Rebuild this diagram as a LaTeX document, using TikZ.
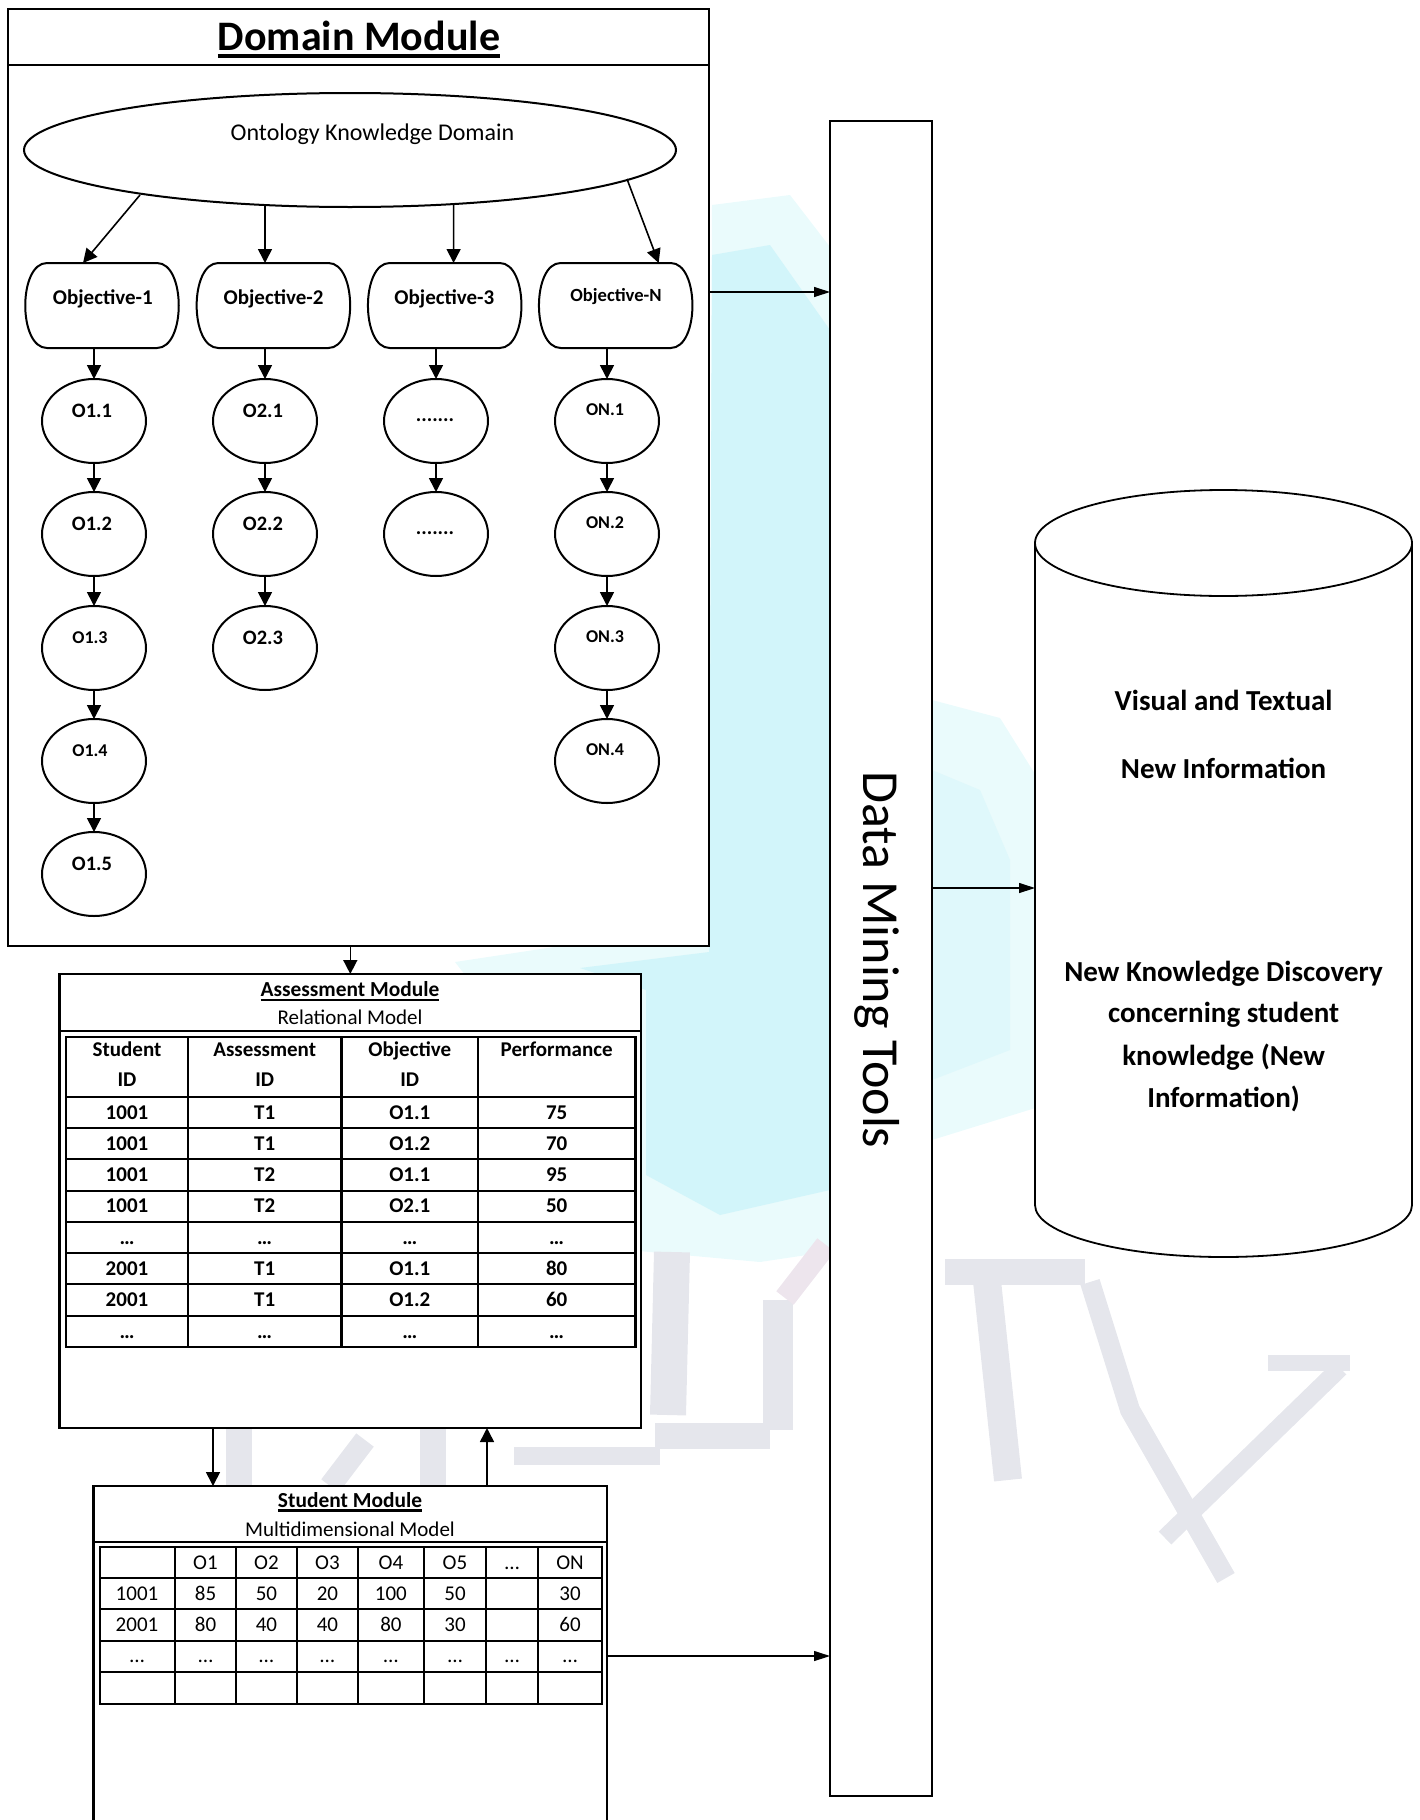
\documentclass[tikz,border=0pt]{standalone}
\usepackage{fontspec}
\setmainfont{Carlito}
\usetikzlibrary{arrows.meta,shapes.geometric,calc}

\definecolor{wmcyan}{RGB}{210,245,250}
\definecolor{wmcyanlight}{RGB}{234,251,252}
\definecolor{wmgray}{RGB}{229,230,236}
\definecolor{wmpink}{RGB}{237,229,237}

% outline of an objective box: straight top/bottom, bulging rounded sides
\newcommand\objoutline[1]{%
  \draw[shapeline]
    ($(#1.north west)+(22,0)$) -- ($(#1.north east)+(-22,0)$)
    .. controls ($(#1.north east)+(7,0)$) and ($(#1.south east)+(7,0)$) .. ($(#1.south east)+(-22,0)$)
    -- ($(#1.south west)+(22,0)$)
    .. controls ($(#1.south west)+(-7,0)$) and ($(#1.north west)+(-7,0)$) .. ($(#1.north west)+(22,0)$)
    -- cycle;}

\begin{document}
\begin{tikzpicture}[x=0.5pt,y=-0.5pt,
  every node/.style={inner sep=0pt, outer sep=0pt},
  boxline/.style={line width=1.2pt},
  modbox/.style={draw, fill=white, rectangle, line width=1.2pt},
  shapeline/.style={line width=1pt},
  arr/.style={-{Triangle[length=7pt,width=7pt]}, line width=0.8pt},
  thinarr/.style={-{Triangle[length=8pt,width=5pt]}, line width=0.6pt},
  objshape/.style={rectangle, minimum width=77pt, minimum height=42.5pt},
  sub/.style={draw, ellipse, line width=1pt, minimum width=52pt, minimum height=42pt},
  capc/.style={text height=#1, text depth=0pt},
  ttl/.style={capc=13.3pt, font=\bfseries\fontsize{21}{25}\selectfont},
  ontl/.style={capc=7.6pt, font=\fontsize{12}{14}\selectfont},
  objl/.style={capc=6.6pt, font=\bfseries\fontsize{10.5}{12}\selectfont},
  objn/.style={capc=5.9pt, font=\bfseries\fontsize{9.3}{11}\selectfont},
  subl/.style={capc=6.5pt, font=\bfseries\fontsize{10.25}{12}\selectfont},
  subs/.style={capc=5.7pt, font=\bfseries\fontsize{9}{11}\selectfont},
  hdr/.style={capc=6.8pt, font=\bfseries\fontsize{10.7}{13}\selectfont},
  hdrsub/.style={capc=6.6pt, font=\fontsize{10.5}{13}\selectfont},
  cellb/.style={capc=6.6pt, font=\bfseries\fontsize{10.5}{12}\selectfont},
  cellr/.style={capc=6.6pt, font=\fontsize{10.5}{12}\selectfont},
  cyltxt/.style={capc=9.2pt, font=\bfseries\fontsize{14.5}{17}\selectfont},
  dmtxt/.style={capc=16.4pt, font=\fontsize{26}{30}\selectfont}
]
\useasboundingbox (0,0) rectangle (1419,1820);

% ---------- faint background logo ----------
\fill[wmcyanlight] (712,205) -- (790,195) -- (840,260) -- (840,1250) -- (760,1262)
  -- (628,1250) -- (600,1150) -- (455,962) -- (600,940) -- (709,900) -- cycle;
\fill[wmcyan] (712,255) -- (770,245) -- (830,330) -- (830,1190) -- (720,1215)
  -- (646,1175) -- (646,990) -- (580,968) -- (709,952) -- cycle;
\fill[wmcyanlight] (932,700) -- (1000,718) -- (1045,790) -- (1045,1105) -- (932,1140) -- cycle;
\fill[wmcyan!70!white] (932,770) -- (980,790) -- (1010,860) -- (1010,1050) -- (932,1080) -- cycle;
\begin{scope}[draw=wmgray]
  \draw[line width=18pt] (672,1252) -- (668,1415);
  \draw[line width=13pt] (655,1436) -- (770,1436);
  \draw[line width=9pt] (514,1456) -- (660,1456);
  \draw[line width=15pt] (778,1300) -- (778,1430);
  \draw[wmpink, line width=11pt] (785,1298) -- (826,1245);
  \draw[line width=13pt] (239,1428) -- (239,1486);
  \draw[line width=11pt] (330,1486) -- (365,1440);
  \draw[line width=13pt] (433,1428) -- (433,1486);
  \draw[line width=13pt] (945,1272) -- (1085,1272);
  \draw[line width=14pt] (985,1262) -- (1008,1480);
  \draw[line width=10pt] (1090,1282) -- (1130,1410) -- (1226,1578);
  \draw[line width=8pt] (1268,1363) -- (1350,1363);
  \draw[line width=9pt] (1340,1368) -- (1165,1538);
\end{scope}

% ---------- Domain module ----------
\node[modbox, minimum width=350.5pt, minimum height=468.5pt] (dom) at (358.5,477.5) {};
\coordinate (domsep) at (0,65);
\draw[boxline] (dom.west |- domsep) -- (dom.east |- domsep);
\node[ttl] (domt) at (359,37) {Domain Module};
\draw[line width=2pt] ($(domt.base west)+(0,6)$) -- ($(domt.base east)+(0,6)$);

\node[draw, ellipse, line width=1pt, minimum width=326pt, minimum height=57pt] (onto) at (350,150) {};
\node[ontl] (ontt) at (372.5,133) {Ontology Knowledge Domain};

% objectives
\node[objshape] (ob1) at (102,305.5) {};
\node[objshape] (ob2) at (273.4,305.5) {};
\node[objshape] (ob3) at (444.7,305.5) {};
\node[objshape] (obN) at (615.7,305.5) {};
\objoutline{ob1}\objoutline{ob2}\objoutline{ob3}\objoutline{obN}
\node[objl] (ol1) at (102.8,298) {Objective-1};
\node[objl] (ol2) at (273.6,298) {Objective-2};
\node[objl] (ol3) at (444.4,298) {Objective-3};
\node[objn] (olN) at (616,296) {Objective-N};

\draw[arr] ($(onto.center)+(-210,45)$) -- ($(ob1.north)+(-19,0)$);
\draw[arr] ($(onto.center)+(-85,55)$) -- ($(ob2.north)+(-8.4,0)$);
\draw[arr] ($(onto.center)+(103.6,54)$) -- ($(ob3.north)+(8.9,0)$);
\draw[arr] ($(onto.center)+(277,29)$) -- ($(obN.north)+(43,0)$);

% sub-objective chains
\foreach \n/\y in {1/421,2/534,3/648,4/761,5/874}
  \node[sub] (c1\n) at (94,\y) {};
\foreach \n/\y in {1/421,2/534,3/648}
  \node[sub] (c2\n) at (265,\y) {};
\foreach \n/\y in {1/421,2/534}
  \node[sub] (c3\n) at (436,\y) {};
\foreach \n/\y in {1/421,2/534,3/648,4/761}
  \node[sub] (c4\n) at (607,\y) {};

\node[subl] (t11) at ($(c11)+(-2,-10)$) {O1.1};
\node[subl] (t12) at ($(c12)+(-2,-10)$) {O1.2};
\node[subs] (t13) at ($(c13)+(-4,-10)$) {O1.3};
\node[subs] (t14) at ($(c14)+(-4,-10)$) {O1.4};
\node[subl] (t15) at ($(c15)+(-2,-10)$) {O1.5};
\node[subl] (t21) at ($(c21)+(-2,-10)$) {O2.1};
\node[subl] (t22) at ($(c22)+(-2,-10)$) {O2.2};
\node[subl] (t23) at ($(c23)+(-2,-10)$) {O2.3};
\node[subl, anchor=base] (t31) at ($(c31)+(-1,0)$) {.......};
\node[subl, anchor=base] (t32) at ($(c32)+(-1,0)$) {.......};
\node[subs] (t41) at ($(c41)+(-2,-11)$) {ON.1};
\node[subs] (t42) at ($(c42)+(-2,-11)$) {ON.2};
\node[subs] (t43) at ($(c43)+(-2,-11)$) {ON.3};
\node[subs] (t44) at ($(c44)+(-2,-11)$) {ON.4};

\draw[arr] (ob1.south -| c11) -- (c11);
\draw[arr] (ob2.south -| c21) -- (c21);
\draw[arr] (ob3.south -| c31) -- (c31);
\draw[arr] (obN.south -| c41) -- (c41);
\draw[arr] (c11) -- (c12); \draw[arr] (c12) -- (c13);
\draw[arr] (c13) -- (c14); \draw[arr] (c14) -- (c15);
\draw[arr] (c21) -- (c22); \draw[arr] (c22) -- (c23);
\draw[arr] (c31) -- (c32);
\draw[arr] (c41) -- (c42); \draw[arr] (c42) -- (c43); \draw[arr] (c43) -- (c44);

% ---------- Assessment module ----------
\node[modbox, minimum width=290.7pt, minimum height=227pt] (asm) at (350.3,1201) {};
\coordinate (asmsep) at (0,1031);
\draw[boxline] (asm.west |- asmsep) -- (asm.east |- asmsep);
\node[hdr] (asmt) at (350,990) {Assessment Module};
\draw[line width=1.1pt] ($(asmt.base west)+(0,3)$) -- ($(asmt.base east)+(0,3)$);
\node[hdrsub] (asms) at (350,1018.3) {Relational Model};

\begin{scope}[line width=1.15pt]
  \draw (66,1036.7) rectangle (635.5,1347.3);
  \foreach \x in {187.8,341.6,477.9} \draw (\x,1036.7) -- (\x,1347.3);
  \foreach \y in {1096.7,1128.3,1159.3,1190.7,1221.7,1253.3,1284.3,1316}
    \draw (66,\y) -- (635.5,\y);
\end{scope}
\node[cellb] (ah11) at (127,1050) {Student};
\node[cellb] (ah12) at (127,1080) {ID};
\node[cellb] (ah21) at (264.7,1050) {Assessment};
\node[cellb] (ah22) at (264.7,1080) {ID};
\node[cellb] (ah31) at (409.8,1050) {Objective};
\node[cellb] (ah32) at (409.8,1080) {ID};
\node[cellb] (ah41) at (556.7,1050) {Performance};
\foreach \r/\a/\b/\c/\d/\y in {1/1001/T1/O1.1/75/1112.5, 2/1001/T1/O1.2/70/1143.8,
    3/1001/T2/O1.1/95/1175, 4/1001/T2/O2.1/50/1206.2, 5/…/…/…/…/1237.5,
    6/2001/T1/O1.1/80/1268.8, 7/2001/T1/O1.2/60/1300.2, 8/…/…/…/…/1331.7}{
  \node[cellb] (ar\r-1) at (127,\y) {\a};
  \node[cellb] (ar\r-2) at (264.7,\y) {\b};
  \node[cellb] (ar\r-3) at (409.8,\y) {\c};
  \node[cellb] (ar\r-4) at (556.7,\y) {\d};
}

% ---------- Student module ----------
\node[rectangle, minimum width=256.6pt, minimum height=167pt] (stu) at (350.2,1653) {};
\draw[boxline, fill=white] (stu.south west) -- (stu.north west) -- (stu.north east) -- (stu.south east);
\coordinate (stusep) at (0,1541.7);
\draw[boxline] (stu.west |- stusep) -- (stu.east |- stusep);
\node[hdr] (stut) at (350,1500.7) {Student Module};
\draw[line width=1.1pt] ($(stut.base west)+(0,3)$) -- ($(stut.base east)+(0,3)$);
\node[hdrsub] (stus) at (350,1529.7) {Multidimensional Model};

\begin{scope}[line width=1pt]
  \draw (99.6,1546.7) rectangle (602,1704);
  \foreach \x in {175,236,296.8,357.9,423.9,486,537.9} \draw (\x,1546.7) -- (\x,1704);
  \foreach \y in {1578.3,1609.3,1640.7,1671.7} \draw (99.6,\y) -- (602,\y);
\end{scope}
\foreach \t/\x [count=\i] in {O1/205.5,O2/266.4,O3/327.4,O4/390.9,O5/455,…/512,ON/570}
  \node[cellr] (sh\i) at (\x,1562.5) {\t};
\foreach \t/\x [count=\i] in {1001/137,85/205.5,50/266.4,20/327.4,100/390.9,50/455,30/570}
  \node[cellr] (sa\i) at (\x,1593.8) {\t};
\foreach \t/\x [count=\i] in {2001/137,80/205.5,40/266.4,40/327.4,80/390.9,30/455,60/570}
  \node[cellr] (sb\i) at (\x,1625) {\t};
\foreach \x [count=\i] in {137,205.5,266.4,327.4,390.9,455,512,570}
  \node[cellr] (sc\i) at (\x,1656.2) {…};

% ---------- Data mining tools ----------
\node[modbox, line width=1pt, minimum width=51pt, minimum height=837.5pt] (dmt) at (881,958.5) {};
\node[dmtxt, rotate=-90] (dmtl) at (880,960) {Data Mining Tools};

% ---------- New information store ----------
\node[rectangle, minimum width=188.5pt, minimum height=331pt] (cyl) at (1223.5,874) {};
\fill[white] (cyl.north west) -- (cyl.south west)
  arc[start angle=180, end angle=360, x radius=94.25pt, y radius=26pt]
  -- (cyl.north east) arc[start angle=0, end angle=180, x radius=94.25pt, y radius=26.5pt] -- cycle;
\draw[line width=0.9pt] (cyl.north west) -- (cyl.south west)
  arc[start angle=180, end angle=360, x radius=94.25pt, y radius=26pt] -- (cyl.north east);
\draw[line width=0.9pt] (cyl.north) ellipse[x radius=94.25pt, y radius=26.5pt];
\node[cyltxt] (cy1) at (1223.6,701) {Visual and Textual};
\node[cyltxt] (cy2) at (1223.6,769) {New Information};
\node[cyltxt] (cy3) at (1223.6,972) {New Knowledge Discovery};
\node[cyltxt] (cy4) at (1223.6,1013) {concerning student};
\node[cyltxt] (cy5) at (1223.6,1056) {knowledge (New};
\node[cyltxt] (cy6) at (1223.6,1098) {Information)};

% ---------- connectors between modules ----------
\coordinate (lvA) at (0,292);
\coordinate (lvB) at (0,1656);
\coordinate (lvC) at (0,888);
\coordinate (colA) at (213,0);
\coordinate (colB) at (487,0);
\draw[thinarr] (dom.east |- lvA) -- (dmt.west |- lvA);
\draw[thinarr] (stu.east |- lvB) -- (dmt.west |- lvB);
\draw[thinarr] (dmt.east |- lvC) -- (cyl.west |- lvC);
\draw[arr] (asm.north |- dom.south) -- (asm.north);
\draw[arr] (asm.south -| colA) -- (stu.north -| colA);
\draw[arr] (stu.north -| colB) -- (asm.south -| colB);
\end{tikzpicture}
\end{document}
